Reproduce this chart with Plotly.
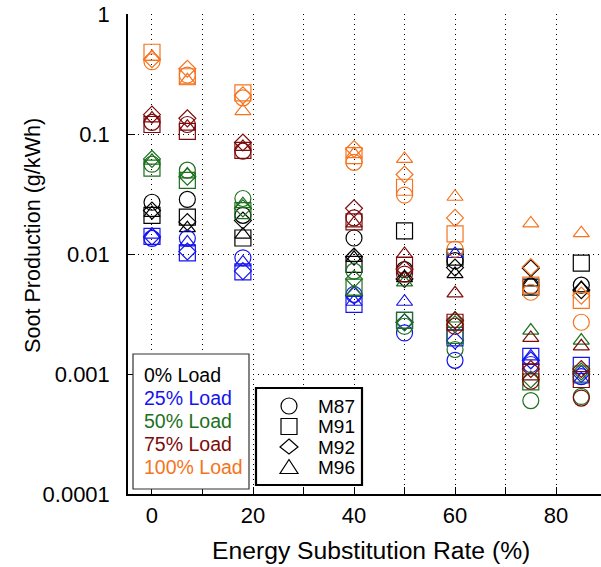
import plotly.graph_objects as go

# Energy substitution rates (%) at which soot was measured
esr = [0, 7, 18, 40, 50, 60, 75, 85]

fuels = ["M87", "M91", "M92", "M96"]
loads = ["0% Load", "25% Load", "50% Load", "75% Load", "100% Load"]

# Soot production (g/kWh) per load, one list per fuel blend
load_0 = {
    "M87": [0.027, 0.0285, 0.021, 0.0136, 0.0074, 0.0088, 0.0054, 0.0055],
    "M91": [0.021, 0.0203, 0.0136, 0.0082, 0.0156, 0.0094, 0.0053, 0.0084],
    "M92": [0.023, 0.0185, 0.019, 0.0095, 0.0062, 0.0077, 0.0076, 0.0050],
    "M96": [0.022, 0.0164, 0.0145, 0.0093, 0.0063, 0.0068, 0.0058, 0.0052],
}
load_25 = {
    "M87": [0.0135, 0.0135, 0.0093, 0.0046, 0.0022, 0.0013, 0.0012, 0.00095],
    "M91": [0.014, 0.0102, 0.0071, 0.0038, 0.0028, 0.0020, 0.0014, 0.00118],
    "M92": [0.014, 0.0105, 0.0072, 0.0045, 0.0027, 0.0019, 0.0013, 0.0010],
    "M96": [0.0145, 0.0125, 0.0085, 0.0040, 0.0040, 0.0100, 0.0014, 0.0009],
}
load_50 = {
    "M87": [0.056, 0.050, 0.029, 0.0072, 0.0025, 0.0016, 0.0006, 0.00065],
    "M91": [0.052, 0.041, 0.023, 0.0053, 0.0028, 0.0021, 0.00086, 0.0010],
    "M92": [0.062, 0.044, 0.024, 0.0062, 0.0027, 0.0026, 0.0009, 0.00105],
    "M96": [0.060, 0.046, 0.026, 0.0048, 0.0058, 0.0029, 0.0023, 0.0019],
}
load_75 = {
    "M87": [0.125, 0.12, 0.072, 0.020, 0.0068, 0.0025, 0.00087, 0.00063],
    "M91": [0.12, 0.105, 0.073, 0.0185, 0.0081, 0.0027, 0.00104, 0.0009],
    "M92": [0.145, 0.135, 0.085, 0.024, 0.0075, 0.0028, 0.0011, 0.0011],
    "M96": [0.135, 0.115, 0.078, 0.018, 0.0100, 0.0047, 0.0020, 0.0017],
}
load_100 = {
    "M87": [0.40, 0.31, 0.20, 0.058, 0.031, 0.011, 0.0048, 0.0027],
    "M91": [0.48, 0.30, 0.22, 0.066, 0.036, 0.0147, 0.0055, 0.0041],
    "M92": [0.42, 0.35, 0.21, 0.075, 0.046, 0.020, 0.0078, 0.0045],
    "M96": [0.44, 0.28, 0.155, 0.068, 0.062, 0.030, 0.018, 0.0149],
}

y_ticks = [0.0001, 0.001, 0.01, 0.1, 1]
y_tick_text = ["0.0001", "0.001", "0.01", "0.1", "1"]
x_ticks = [0, 10, 20, 30, 40, 50, 60, 70, 80]
x_tick_text = ["0", "", "20", "", "40", "", "60", "", "80"]

x_title = "Energy Substitution Rate (%)"
y_title = "Soot Production (g/kWh)"

load_colors = ["#000000", "#1414f0", "#1d701d", "#7d0a0a", "#f57420"]
fuel_symbols = {"M87": "circle-open", "M91": "square-open",
                "M92": "diamond-open", "M96": "triangle-up-open"}
fuel_sizes = {"M87": 16, "M91": 16, "M92": 13, "M96": 14}

FONT = "Liberation Sans, Arial, sans-serif"

fig = go.Figure()
for load, color, table in zip(loads, load_colors,
                              [load_0, load_25, load_50, load_75, load_100]):
    for fuel in fuels:
        fig.add_trace(go.Scatter(
            x=esr, y=table[fuel], mode="markers", name=f"{fuel} {load}",
            showlegend=False,
            marker=dict(symbol=fuel_symbols[fuel], size=fuel_sizes[fuel],
                        color=color, line=dict(width=1.2, color=color)),
        ))

# plot-area geometry in pixels (used for titles and hand-built legends)
W, H = 601, 567
L, R, T, B = 128, 0, 14, 73
PW, PH = W - L - R, H - T - B


def px(xp):
    return (xp - L) / PW


def py(yp):
    return (H - B - yp) / PH


shapes = []
annotations = []

# axis titles
annotations.append(dict(text=x_title, xref="paper", yref="paper",
                        x=px(371), y=py(550), xanchor="center",
                        yanchor="middle", showarrow=False,
                        font=dict(family=FONT, size=24.7, color="black")))
annotations.append(dict(text=y_title, xref="paper", yref="paper",
                        x=px(32), y=py(236), xanchor="center",
                        yanchor="middle", showarrow=False, textangle=-90,
                        font=dict(family=FONT, size=21.6, color="black")))

# load legend: coloured text in a thin box
shapes.append(dict(type="rect", xref="paper", yref="paper",
                   x0=px(133), x1=px(249), y0=py(489), y1=py(354),
                   line=dict(color="#333333", width=1.2), fillcolor="white",
                   layer="above"))
for i, (load, color) in enumerate(zip(loads, load_colors)):
    annotations.append(dict(text=load, xref="paper", yref="paper",
                            x=px(142), y=py(375 + 23 * i), xanchor="left",
                            yanchor="middle", showarrow=False,
                            font=dict(family=FONT, size=19.5, color=color)))

# fuel legend: symbol + name in a heavier box
shapes.append(dict(type="rect", xref="paper", yref="paper",
                   x0=px(256), x1=px(362), y0=py(485), y1=py(388),
                   line=dict(color="black", width=2.2), fillcolor="white",
                   layer="above"))
sym_paths = {
    "M92": "M0,8 L9,0 L0,-7 L-9,0 Z",
    "M96": "M-9,-6 L9,-6 L0,8 Z",
}
for i, fuel in enumerate(fuels):
    yc = 406 + 20.5 * i
    common = dict(xref="paper", yref="paper", xsizemode="pixel",
                  ysizemode="pixel", xanchor=px(289), yanchor=py(yc),
                  line=dict(color="black", width=1.2), layer="above")
    if fuel == "M87":
        shapes.append(dict(type="circle", x0=-8, x1=8, y0=-8, y1=8, **common))
    elif fuel == "M91":
        shapes.append(dict(type="rect", x0=-8, x1=8, y0=-8, y1=8, **common))
    else:
        shapes.append(dict(type="path", path=sym_paths[fuel], **common))
    annotations.append(dict(text=fuel, xref="paper", yref="paper",
                            x=px(316), y=py(yc), xanchor="left",
                            yanchor="middle", showarrow=False,
                            font=dict(family=FONT, size=19, color="black")))

grid = dict(showgrid=True, gridcolor="black", gridwidth=1, griddash="1px,4px")

fig.update_layout(
    width=W, height=H,
    margin=dict(l=L, r=R, t=T, b=B, pad=0),
    plot_bgcolor="white", paper_bgcolor="white",
    font=dict(family=FONT, size=22, color="black"),
    shapes=shapes, annotations=annotations,
    xaxis=dict(range=[-4.75, 88.9], tickvals=x_ticks, ticktext=x_tick_text,
               ticks="inside", ticklen=7, tickwidth=1, tickcolor="black",
               showline=True, linecolor="black", linewidth=1.5,
               zeroline=False, ticklabelstandoff=1,
               tickfont=dict(size=22), **grid),
    yaxis=dict(type="log", range=[-4, 0], tickvals=y_ticks,
               ticktext=y_tick_text, ticks="inside", ticklen=7, tickwidth=1,
               tickcolor="black", showline=True, linecolor="black",
               linewidth=1.5, zeroline=False, ticklabelstandoff=12,
               tickfont=dict(size=22), **grid),
)

fig.write_html("out.html")
